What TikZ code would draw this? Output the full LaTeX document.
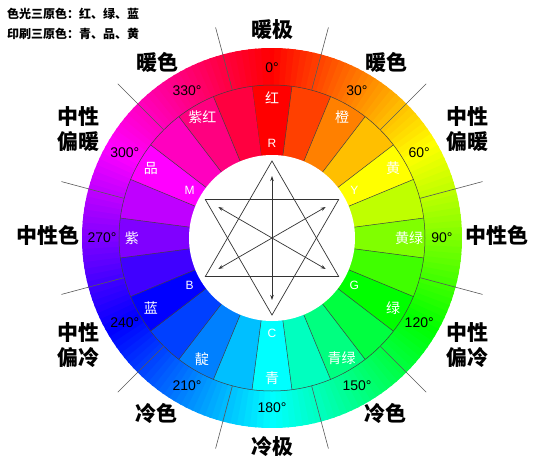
\documentclass[tikz,border=0pt]{standalone}
\usepackage{fontspec}
\setmainfont{Liberation Sans}
\newfontfamily\cjk{Noto Sans CJK SC}
\usetikzlibrary{arrows.meta}

\begin{document}
\begin{tikzpicture}[x=1pt,y=1pt,
    seg/.style={draw=seg line, line width=0.5pt},
    tickline/.style={draw=tick line, line width=0.6pt},
    star/.style={draw=star line, line width=0.7pt},
    link/.style={star, {Stealth[length=5pt,width=3.5pt]}-{Stealth[length=5pt,width=3.5pt]}},
    zone/.style={font=\cjk\bfseries\fontsize{21}{25}\selectfont, align=center, inner sep=0pt},
    huename/.style={font=\cjk\fontsize{14}{16}\selectfont, text=white, inner sep=0pt},
    deg/.style={font=\fontsize{14}{16}\selectfont, inner sep=0pt},
    letter/.style={font=\fontsize{12}{14}\selectfont, text=white, inner sep=0pt},
    legend/.style={font=\cjk\bfseries\fontsize{12}{14}\selectfont, anchor=west, inner sep=0pt}]
\def\hole{(0,0) circle (83pt)}
\def\midring{(0,0) circle (153pt)}

\definecolor{seg line}{gray}{0.25}
\definecolor{tick line}{gray}{0.35}
\definecolor{star line}{gray}{0.2}
    \useasboundingbox (-272,-231) rectangle (263,238);

    \foreach \a [evaluate=\a as \s using 90-\a+1.3, evaluate=\a as \e using 90-\a-1.3] in {0,2,...,358} {
        \definecolor{wheel}{Hsb}{\a,1,1}
        \fill[wheel] (0,0) -- (\s:190) arc[start angle=\s, end angle=\e, radius=190pt] -- cycle;
    }
    \foreach \a [evaluate=\a as \s using 90-\a+7.5, evaluate=\a as \e using 90-\a-7.5] in {0,15,...,345} {
        \definecolor{wheel}{Hsb}{\a,1,1}
        \fill[wheel] (0,0) -- (\s:153) arc[start angle=\s, end angle=\e, radius=153pt] -- cycle;
        \draw[seg] (0,0) -- (\s:153);
    }
    \fill[white] \hole;
    \draw[seg] \midring;
    \foreach \a in {15,45,...,345}
        \draw[tickline] (90-\a:153) -- (90-\a:218);

    \draw[star] (90:77) -- (210:77) -- (330:77) -- cycle;
    \draw[star] (270:77) -- (30:77) -- (150:77) -- cycle;
    \foreach \t in {90,30,150} {
        \coordinate (p\t) at (\t:62);
        \coordinate (q\t) at (\t+180:62);
        \draw[link] (p\t) -- (q\t);
    }

    \foreach \a/\t/\r in {0/红/140,30/橙/140,60/黄/140,90/黄绿/137,120/绿/140,150/青绿/139,
        180/青/140,210/靛/140,240/蓝/140,270/紫/140,300/品/140,330/紫红/139}
        \node[huename] (n\a) at (90-\a:\r) {\t};
    \foreach \a/\t in {0/R,60/Y,120/G,180/C,240/B,300/M}
        \node[letter] (l\t) at (90-\a:95) {\t};
    \foreach \a in {0,30,...,330}
        \node[deg] (d\a) at (90-\a:170) {\a°};

    \node[zone] (warmpole) at (0,208) {暖极};
    \node[zone] (coldpole) at (0,-209) {冷极};
    \node[zone] (warmL) at (-114,176) {暖色};
    \node[zone] (warmR) at (114,176) {暖色};
    \node[zone] (nwarmL) at (-193,109) {中性\\偏暖};
    \node[zone] (nwarmR) at (195,109) {中性\\偏暖};
    \node[zone] (neutL) at (-224,3) {中性色};
    \node[zone] (neutR) at (225,3) {中性色};
    \node[zone] (ncoldL) at (-193,-107) {中性\\偏冷};
    \node[zone] (ncoldR) at (195,-107) {中性\\偏冷};
    \node[zone] (coldL) at (-115,-175) {冷色};
    \node[zone] (coldR) at (113,-175) {冷色};

    \node[legend] (light) at (-265,224) {色光三原色：红、绿、蓝};
    \node[legend] (print) at (-265,204) {印刷三原色：青、品、黄};
\end{tikzpicture}
\end{document}
